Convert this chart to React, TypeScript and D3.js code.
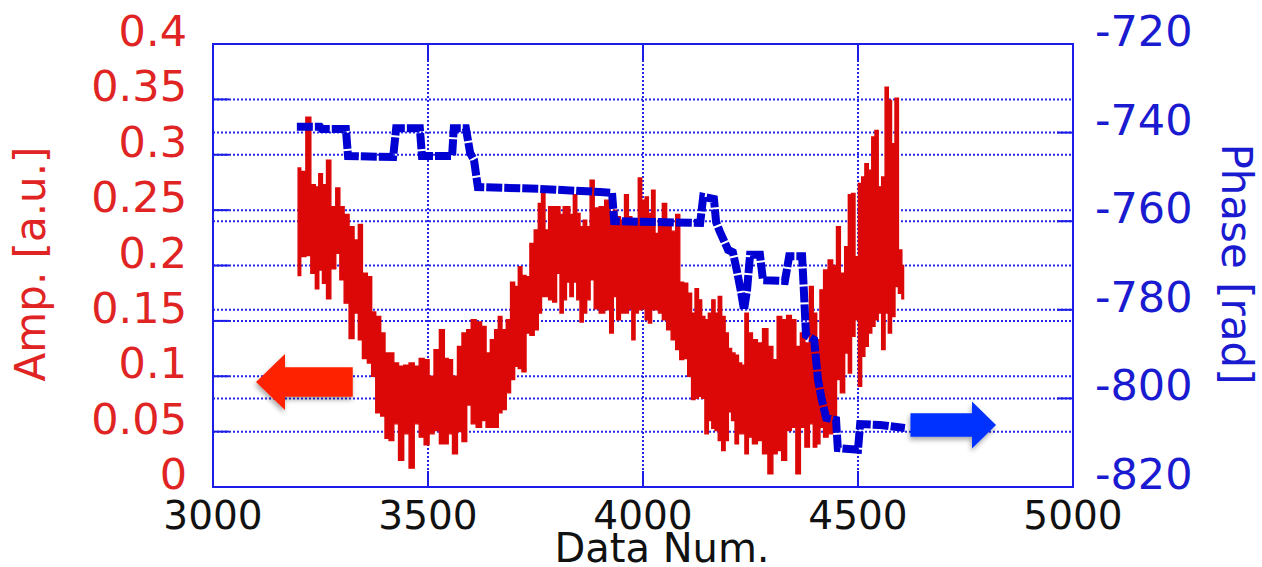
import React from "react";
import * as d3 from "d3";

const width = 1262;
const height = 567;
const margin = { top: 44, right: 189, bottom: 80, left: 213 };

// red amplitude trace, read as high / low envelope per slice
const ampNum = [
  3198, 3210, 3222, 3233, 3243, 3249, 3260, 3268, 3280, 3291, 3299, 3311, 3322, 3334, 3342, 3353,
  3365, 3373, 3384, 3396, 3404, 3415, 3426, 3437, 3450, 3462, 3474, 3485, 3497, 3508, 3520, 3533,
  3543, 3551, 3563, 3574, 3584, 3596, 3605, 3619, 3630, 3640, 3650, 3660, 3667, 3677, 3687, 3697,
  3706, 3714, 3723, 3733, 3741, 3753, 3760, 3768, 3776, 3785, 3795, 3803, 3811, 3818, 3826, 3834,
  3842, 3850, 3857, 3865, 3873, 3881, 3892, 3904, 3918, 3927, 3935, 3943, 3952, 3962, 3970, 3978,
  3985, 3993, 4001, 4009, 4016, 4024, 4032, 4040, 4050, 4060, 4071, 4081, 4090, 4099, 4109, 4117,
  4125, 4133, 4140, 4148, 4156, 4164, 4171, 4179, 4187, 4195, 4202, 4210, 4218, 4226, 4233, 4241,
  4249, 4260, 4272, 4284, 4297, 4307, 4317, 4328, 4340, 4350, 4361, 4371, 4382, 4392, 4400, 4408,
  4415, 4425, 4436, 4446, 4454, 4464, 4474, 4481, 4489, 4497, 4505, 4512, 4520, 4528, 4536, 4543,
  4551, 4559, 4567, 4574, 4582, 4590, 4598, 4606,
];
const ampHigh = [
  0.288, 0.285, 0.334, 0.273, 0.271, 0.283, 0.273, 0.295, 0.253, 0.27, 0.253, 0.246, 0.235, 0.223, 0.237, 0.193,
  0.19, 0.158, 0.154, 0.139, 0.121, 0.121, 0.112, 0.109, 0.11, 0.112, 0.109, 0.116, 0.115, 0.1, 0.124, 0.142,
  0.116, 0.115, 0.1, 0.127, 0.139, 0.142, 0.151, 0.149, 0.145, 0.121, 0.133, 0.142, 0.154, 0.142, 0.151, 0.185,
  0.181, 0.199, 0.191, 0.19, 0.22, 0.232, 0.256, 0.268, 0.232, 0.253, 0.253, 0.253, 0.246, 0.253, 0.253, 0.246,
  0.264, 0.247, 0.235, 0.241, 0.235, 0.277, 0.252, 0.253, 0.259, 0.247, 0.25, 0.244, 0.241, 0.264, 0.244, 0.237,
  0.241, 0.279, 0.259, 0.262, 0.247, 0.268, 0.229, 0.241, 0.256, 0.235, 0.231, 0.246, 0.185, 0.184, 0.175, 0.157,
  0.179, 0.169, 0.154, 0.151, 0.157, 0.169, 0.157, 0.172, 0.154, 0.139, 0.125, 0.121, 0.119, 0.112, 0.11, 0.157,
  0.139, 0.133, 0.13, 0.143, 0.127, 0.115, 0.154, 0.151, 0.155, 0.151, 0.127, 0.139, 0.13, 0.181, 0.157, 0.133,
  0.178, 0.196, 0.205, 0.2, 0.235, 0.193, 0.217, 0.264, 0.265, 0.208, 0.274, 0.28, 0.292, 0.286, 0.316, 0.322,
  0.271, 0.28, 0.361, 0.349, 0.31, 0.351, 0.214, 0.2,
];
const ampLow = [
  0.191, 0.208, 0.209, 0.193, 0.179, 0.196, 0.184, 0.17, 0.197, 0.211, 0.187, 0.166, 0.134, 0.157, 0.133, 0.116,
  0.112, 0.1, 0.067, 0.064, 0.044, 0.042, 0.057, 0.024, 0.048, 0.017, 0.057, 0.045, 0.038, 0.048, 0.051, 0.039,
  0.039, 0.048, 0.03, 0.05, 0.041, 0.074, 0.057, 0.054, 0.06, 0.054, 0.054, 0.054, 0.067, 0.07, 0.085, 0.097,
  0.109, 0.107, 0.104, 0.139, 0.137, 0.142, 0.157, 0.172, 0.172, 0.169, 0.167, 0.193, 0.157, 0.169, 0.185, 0.172,
  0.185, 0.169, 0.149, 0.157, 0.169, 0.187, 0.161, 0.157, 0.16, 0.139, 0.172, 0.151, 0.157, 0.157, 0.161, 0.133,
  0.157, 0.16, 0.161, 0.151, 0.148, 0.16, 0.16, 0.157, 0.151, 0.142, 0.133, 0.124, 0.115, 0.116, 0.1, 0.079,
  0.08, 0.082, 0.08, 0.048, 0.06, 0.053, 0.051, 0.042, 0.033, 0.042, 0.068, 0.06, 0.039, 0.048, 0.048, 0.03,
  0.045, 0.039, 0.042, 0.03, 0.012, 0.03, 0.033, 0.024, 0.051, 0.054, 0.012, 0.054, 0.036, 0.057, 0.036, 0.039,
  0.054, 0.045, 0.048, 0.054, 0.097, 0.085, 0.121, 0.103, 0.136, 0.151, 0.091, 0.118, 0.127, 0.139, 0.145, 0.151,
  0.157, 0.124, 0.157, 0.139, 0.154, 0.181, 0.175, 0.17,
];

// blue phase trace
const phaseNum = [
  3195, 3249, 3253, 3309, 3314, 3419, 3426, 3481, 3486, 3556, 3560, 3588, 3598, 3607, 3616, 3760,
  3900, 3928, 3933, 4133, 4140, 4165, 4170, 4179, 4198, 4209, 4219, 4228, 4235, 4242, 4249, 4272,
  4279, 4330, 4340, 4370, 4374, 4379, 4398, 4407, 4416, 4426, 4449, 4453, 4500, 4505, 4551, 4609,
];
const phaseVal = [
  -738.7, -738.7, -739.2, -739.2, -745.3, -745.5, -739.0, -739.0, -745.3, -745.3, -739.0, -739.0, -744.6, -746.2, -752.3, -752.7,
  -753.4, -753.6, -760.0, -760.4, -754.5, -755.0, -760.2, -762.4, -766.5, -767.0, -771.5, -776.0, -780.0, -775.5, -767.6, -767.6,
  -773.3, -773.5, -767.9, -767.9, -775.5, -785.7, -786.8, -795.8, -800.4, -804.4, -804.9, -811.2, -811.6, -805.8, -806.0, -806.7,
];

const xTicks = [3000, 3500, 4000, 4500, 5000];
const ampTicks = [0, 0.05, 0.1, 0.15, 0.2, 0.25, 0.3, 0.35, 0.4];
const ampTickLabels = ["0", "0.05", "0.1", "0.15", "0.2", "0.25", "0.3", "0.35", "0.4"];
const phaseTicks = [-820, -800, -780, -760, -740, -720];

const frameColor = "#1c1ce8";
const gridColor = "#2626ea";
const font = "DejaVu Sans";

const App = () => {
  const x0 = margin.left;
  const x1 = width - margin.right;
  const yB = 487;
  const yT = margin.top;

  const xScale = d3.scaleLinear().domain([3000, 5000]).range([x0, x1]);
  const ampScale = d3.scaleLinear().domain([0, 0.4]).range([yB, yT]);
  const phaseScale = d3.scaleLinear().domain([-820, -720]).range([yB, yT]);

  const ampData = ampNum.map((n, i) => ({ n, hi: ampHigh[i], lo: ampLow[i] }));
  const ampArea = d3
    .area<{ n: number; hi: number; lo: number }>()
    .x((d) => xScale(d.n))
    .y0((d) => ampScale(d.lo))
    .y1((d) => ampScale(d.hi))
    .curve(d3.curveStep);

  const phaseData = phaseNum.map((n, i) => ({ n, v: phaseVal[i] }));
  const phaseLine = d3
    .line<{ n: number; v: number }>()
    .x((d) => xScale(d.n))
    .y((d) => phaseScale(d.v));

  const tl = 16;

  // arrows (tip positions in data units)
  const ra = { tx: xScale(3100), ty: ampScale(0.0948), tail: xScale(3325) };
  const ba = { tx: xScale(4821), ty: phaseScale(-806), tail: xScale(4622) };
  const redArrow = `M${ra.tx},${ra.ty} L${ra.tx + 29},${ra.ty - 28} L${ra.tx + 29},${ra.ty - 14.7} L${ra.tail},${ra.ty - 14.7} L${ra.tail},${ra.ty + 14.7} L${ra.tx + 29},${ra.ty + 14.7} L${ra.tx + 29},${ra.ty + 28} Z`;
  const blueArrow = `M${ba.tx},${ba.ty} L${ba.tx - 24},${ba.ty - 23.5} L${ba.tx - 24},${ba.ty - 11.7} L${ba.tail},${ba.ty - 11.7} L${ba.tail},${ba.ty + 11.7} L${ba.tx - 24},${ba.ty + 11.7} L${ba.tx - 24},${ba.ty + 23.5} Z`;

  return (
    <svg
      width={width}
      height={height}
      style={{ position: "absolute", left: 0, top: 0, background: "#fff" }}
      fontFamily={font}
    >
      <defs>
        <filter id="shadow" x="-30%" y="-30%" width="160%" height="180%">
          <feDropShadow dx="-1" dy="3" stdDeviation="2.5" floodColor="#000" floodOpacity="0.35" />
        </filter>
      </defs>

      {/* grid */}
      <g stroke={gridColor} strokeWidth={2} strokeDasharray="2 2">
        {ampTicks.slice(1, -1).map((t) => (
          <line key={"ga" + t} x1={x0} x2={x1} y1={ampScale(t)} y2={ampScale(t)} />
        ))}
        {phaseTicks.slice(1, -1).map((t) => (
          <line key={"gp" + t} x1={x0} x2={x1} y1={phaseScale(t)} y2={phaseScale(t)} />
        ))}
        {xTicks.slice(1, -1).map((t) => (
          <line key={"gx" + t} x1={xScale(t)} x2={xScale(t)} y1={yT} y2={yB} />
        ))}
      </g>

      {/* ticks */}
      <g stroke={frameColor} strokeWidth={2}>
        {ampTicks.map((t) => (
          <line key={"ta" + t} x1={x0} x2={x0 + tl} y1={ampScale(t)} y2={ampScale(t)} />
        ))}
        {phaseTicks.map((t) => (
          <line key={"tp" + t} x1={x1 - tl} x2={x1} y1={phaseScale(t)} y2={phaseScale(t)} />
        ))}
        {xTicks.map((t) => (
          <React.Fragment key={"tx" + t}>
            <line x1={xScale(t)} x2={xScale(t)} y1={yB} y2={yB - tl} />
            <line x1={xScale(t)} x2={xScale(t)} y1={yT} y2={yT + tl} />
          </React.Fragment>
        ))}
      </g>

      {/* amplitude */}
      <path d={ampArea(ampData) || ""} fill="#dc0808" stroke="#dc0808" strokeWidth={1.4} />

      {/* phase */}
      <path
        d={phaseLine(phaseData) || ""}
        fill="none"
        stroke="#0000d2"
        strokeWidth={8}
        strokeDasharray="16 2"
        strokeLinejoin="miter"
      />

      {/* frame */}
      <rect x={x0} y={yT} width={x1 - x0} height={yB - yT} fill="none" stroke={frameColor} strokeWidth={2} />

      {/* arrows */}
      <path d={redArrow} fill="#ff2200" filter="url(#shadow)" />
      <path d={blueArrow} fill="#0433ff" filter="url(#shadow)" />

      {/* left labels */}
      <g fill="#e02424" fontSize={43} textAnchor="end">
        {ampTicks.map((t, i) => (
          <text key={"la" + t} x={187} y={ampScale(t) + 2}>
            {ampTickLabels[i]}
          </text>
        ))}
      </g>
      <text
        transform={`translate(45,264) rotate(-90)`}
        textAnchor="middle"
        fill="#e02424"
        fontSize={42}
      >
        Amp. [a.u.]
      </text>

      {/* right labels */}
      <g fill="#1a1ad0" fontSize={43} textAnchor="start">
        {phaseTicks.map((t) => (
          <text key={"lp" + t} x={1095} y={phaseScale(t) + 2}>
            {t}
          </text>
        ))}
      </g>
      <text
        transform={`translate(1222,264) rotate(90)`}
        textAnchor="middle"
        fill="#1a1ad0"
        fontSize={42}
      >
        Phase [rad]
      </text>

      {/* x labels */}
      <g fill="#111" fontSize={39} textAnchor="middle">
        {xTicks.map((t) => (
          <text key={"lx" + t} x={xScale(t)} y={529}>
            {t}
          </text>
        ))}
      </g>
      <text x={662} y={562} textAnchor="middle" fill="#111" fontSize={40}>
        Data Num.
      </text>
    </svg>
  );
};

export default App;
